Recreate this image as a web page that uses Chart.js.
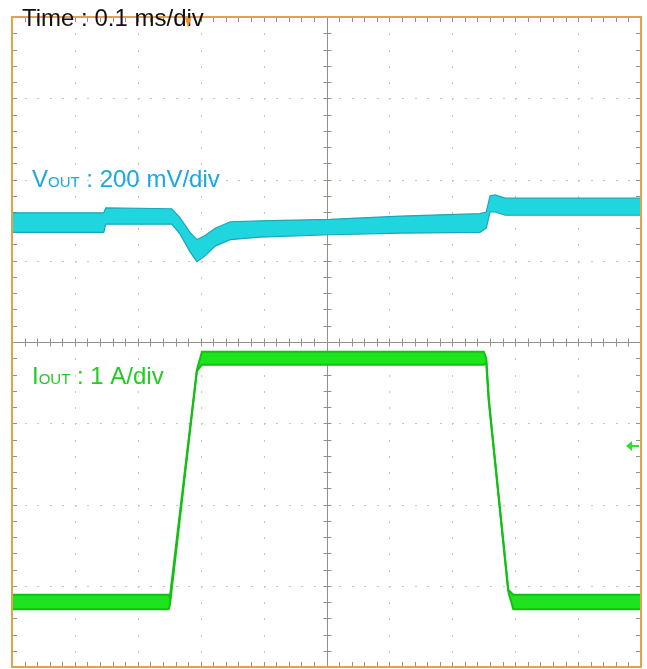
<!DOCTYPE html>
<html>
<head>
<meta charset="utf-8">
<script src="https://cdn.jsdelivr.net/npm/chart.js@4.4.1/dist/chart.umd.min.js"></script>
<style>
  html, body { margin: 0; padding: 0; background: #fff; }
  #wrap { width: 647px; height: 669px; }
</style>
</head>
<body>
<div id="wrap"><canvas id="scopeChart" width="647" height="669"></canvas></div>
<script>
// time axis in divisions (0.1 ms/div), vertical axis in divisions (8 div)
var voutTime = [0, 1.46, 1.49, 2.54, 2.67, 2.83, 2.94, 3.07, 3.23, 3.47, 3.94, 5.06, 6.17, 7.44, 7.54, 7.60, 7.68, 7.84, 10];
var voutHigh = [5.59, 5.59, 5.65, 5.64, 5.53, 5.35, 5.26, 5.31, 5.40, 5.48, 5.49, 5.51, 5.55, 5.58, 5.60, 5.80, 5.81, 5.77, 5.77];
var voutLow  = [5.35, 5.35, 5.45, 5.45, 5.33, 5.11, 4.99, 5.06, 5.18, 5.26, 5.29, 5.32, 5.34, 5.35, 5.40, 5.60, 5.60, 5.56, 5.56];

var ioutTime = [0, 2.49, 2.51, 2.94, 3.02, 7.50, 7.54, 7.58, 7.89, 7.97, 10];
var ioutHigh = [0.89, 0.89, 0.86, 3.66, 3.88, 3.88, 3.80, 3.30, 0.95, 0.89, 0.89];
var ioutLow  = [0.71, 0.71, 0.76, 3.64, 3.72, 3.72, 3.74, 3.27, 0.93, 0.71, 0.71];

var xDivs = 10;
var yDivs = 8;
var triggerAt = 2.8;   // trigger marker on time axis
var groundRefI = 2.72; // green channel marker on right edge

function pts(xs, ys) {
    return xs.map(function (t, i) { return { x: t, y: ys[i] }; });
}

var scopeDecor = {
    id: 'scopeDecor',
    beforeDatasetsDraw: function (chart) {
        var ctx = chart.ctx, a = chart.chartArea, x = chart.scales.x, y = chart.scales.y;
        ctx.save();
        // dotted division grid
        ctx.fillStyle = '#c4c4c4';
        for (var i = 1; i < xDivs; i++) {
            if (i === xDivs / 2) continue;
            var px = Math.round(x.getPixelForValue(i));
            for (var k = 1; k < yDivs * 5; k++) {
                ctx.fillRect(px, Math.round(y.getPixelForValue(k / 5)), 1, 2);
            }
        }
        for (var j = 1; j < yDivs; j++) {
            if (j === yDivs / 2) continue;
            var py = Math.round(y.getPixelForValue(j));
            for (var m = 1; m < xDivs * 5; m++) {
                ctx.fillRect(Math.round(x.getPixelForValue(m / 5)), py, 2, 1);
            }
        }
        // centre cross with minor ticks
        var cx = Math.round(x.getPixelForValue(xDivs / 2)) + 0.5;
        var cy = Math.round(y.getPixelForValue(yDivs / 2)) + 0.5;
        ctx.strokeStyle = '#958f86';
        ctx.lineWidth = 1;
        ctx.beginPath();
        ctx.moveTo(a.left, cy); ctx.lineTo(a.right, cy);
        ctx.moveTo(cx, a.top); ctx.lineTo(cx, a.bottom);
        for (var p = 1; p < xDivs * 5; p++) {
            var tx = Math.round(x.getPixelForValue(p / 5)) + 0.5;
            ctx.moveTo(tx, cy - 4); ctx.lineTo(tx, cy + 4);
            ctx.moveTo(tx, a.top); ctx.lineTo(tx, a.top + 5);
            ctx.moveTo(tx, a.bottom); ctx.lineTo(tx, a.bottom - 5);
        }
        for (var q = 1; q < yDivs * 5; q++) {
            var ty = Math.round(y.getPixelForValue(q / 5)) + 0.5;
            ctx.moveTo(cx - 4, ty); ctx.lineTo(cx + 4, ty);
            ctx.moveTo(a.left, ty); ctx.lineTo(a.left + 5, ty);
            ctx.moveTo(a.right, ty); ctx.lineTo(a.right - 5, ty);
        }
        ctx.stroke();
        ctx.restore();
    },
    afterDatasetsDraw: function (chart) {
        var ctx = chart.ctx, a = chart.chartArea, y = chart.scales.y;
        ctx.save();
        // frame
        ctx.strokeStyle = '#e2a24c';
        ctx.lineWidth = 2;
        ctx.strokeRect(a.left, a.top, a.right - a.left, a.bottom - a.top);
        // channel marker
        var gy = y.getPixelForValue(groundRefI);
        ctx.strokeStyle = '#2ee02e';
        ctx.fillStyle = '#2ee02e';
        ctx.lineWidth = 2;
        ctx.beginPath();
        ctx.moveTo(a.right - 2, gy); ctx.lineTo(a.right - 10, gy);
        ctx.stroke();
        ctx.beginPath();
        ctx.moveTo(a.right - 15, gy);
        ctx.lineTo(a.right - 9, gy - 5);
        ctx.lineTo(a.right - 9, gy + 5);
        ctx.closePath();
        ctx.fill();
        ctx.restore();
    },
    afterDraw: function (chart) {
        var ctx = chart.ctx, a = chart.chartArea, x = chart.scales.x;
        ctx.save();
        ctx.textBaseline = 'alphabetic';
        ctx.fillStyle = '#111';
        ctx.font = '24px "Liberation Sans", Arial, sans-serif';
        ctx.fillText('Time : 0.1 ms/div', 22, 26);

        // trigger marker on top of the title
        var trx = x.getPixelForValue(triggerAt);
        ctx.fillStyle = '#e8902a';
        ctx.beginPath();
        ctx.moveTo(trx - 3, a.top + 1);
        ctx.lineTo(trx + 3, a.top + 1);
        ctx.lineTo(trx, a.top + 11);
        ctx.closePath();
        ctx.fill();

        function label(big, sub, rest, x0, y0, color) {
            ctx.fillStyle = color;
            ctx.font = '24px "Liberation Sans", Arial, sans-serif';
            ctx.fillText(big, x0, y0);
            var w = ctx.measureText(big).width;
            ctx.font = '15px "Liberation Sans", Arial, sans-serif';
            ctx.fillText(sub, x0 + w, y0);
            w += ctx.measureText(sub).width;
            ctx.font = '24px "Liberation Sans", Arial, sans-serif';
            ctx.fillText(rest, x0 + w, y0);
        }
        label('V', 'OUT', ' : 200 mV/div', 32, 187, '#1aa8e2');
        label('I', 'OUT', ' : 1 A/div', 32, 384, '#22cc22');
        ctx.restore();
    }
};

var cyan = 'rgb(32, 214, 222)';
var cyanEdge = 'rgb(30, 165, 185)';
var green = 'rgb(30, 228, 30)';
var greenEdge = 'rgb(20, 190, 20)';

var scopeChart = new Chart(document.getElementById('scopeChart').getContext('2d'), {
    type: 'line',
    data: {
        datasets: [
            { label: 'Vout high', data: pts(voutTime, voutHigh), borderColor: cyanEdge, borderWidth: 1.2, fill: false },
            { label: 'Vout low', data: pts(voutTime, voutLow), borderColor: cyanEdge, borderWidth: 1.2, backgroundColor: cyan, fill: '-1' },
            { label: 'Iout high', data: pts(ioutTime, ioutHigh), borderColor: greenEdge, borderWidth: 2, fill: false },
            { label: 'Iout low', data: pts(ioutTime, ioutLow), borderColor: greenEdge, borderWidth: 2, backgroundColor: green, fill: '-1' }
        ]
    },
    options: {
        responsive: false,
        animation: false,
        devicePixelRatio: 1,
        layout: { padding: { left: 12, top: 17, right: 6, bottom: 2 } },
        elements: { point: { radius: 0 }, line: { tension: 0 } },
        plugins: { legend: { display: false }, tooltip: { enabled: false } },
        scales: {
            x: { type: 'linear', min: 0, max: xDivs, display: false },
            y: { type: 'linear', min: 0, max: yDivs, display: false }
        }
    },
    plugins: [scopeDecor]
});
</script>
</body>
</html>
